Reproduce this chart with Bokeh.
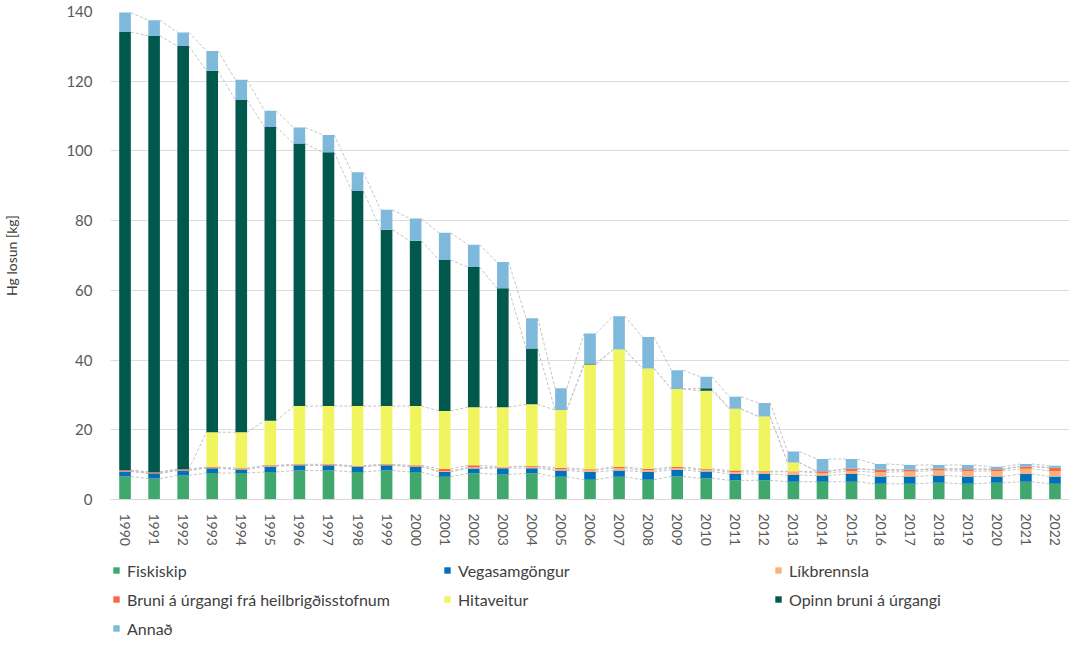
from bokeh.plotting import figure
from bokeh.models import ColumnDataSource, Range1d, FixedTicker, Legend, LegendItem
from bokeh.layouts import column
from bokeh.embed import file_html
from bokeh.resources import INLINE

years = [str(y) for y in range(1990, 2023)]

fiskiskip = [6.6, 6.0, 6.9, 7.6, 7.6, 7.9, 8.3, 8.3, 7.9, 8.3, 7.9, 6.5, 7.5, 7.2, 7.5, 6.5, 5.7,
             6.5, 5.7, 6.6, 6.1, 5.5, 5.5, 5.1, 5.1, 5.1, 4.5, 4.5, 4.8, 4.5, 4.8, 5.1, 4.5]
vegasamgongur = [1.4, 1.5, 1.4, 1.4, 1.0, 1.6, 1.5, 1.5, 1.5, 1.5, 1.5, 1.4, 1.4, 1.8, 1.5, 1.8, 2.2,
                 1.8, 2.2, 1.9, 1.9, 1.8, 1.8, 1.9, 1.8, 2.2, 2.1, 2.1, 2.1, 2.1, 1.8, 2.2, 2.1]
likbrennsla = [0.1, 0.1, 0.1, 0.1, 0.1, 0.1, 0.1, 0.1, 0.1, 0.1, 0.1, 0.3, 0.3, 0.3, 0.4, 0.4, 0.5,
               0.7, 0.5, 0.5, 0.5, 0.6, 0.6, 1.0, 0.7, 0.8, 1.2, 1.4, 1.4, 1.5, 1.6, 1.5, 1.6]
bruni = [0.3, 0.3, 0.3, 0.2, 0.3, 0.2, 0.2, 0.2, 0.2, 0.2, 0.3, 0.6, 0.6, 0.1, 0.2, 0.4, 0.3,
         0.4, 0.4, 0.3, 0.3, 0.4, 0.2, 0.1, 0.5, 0.7, 0.7, 0.5, 0.5, 0.6, 0.5, 0.7, 0.9]
hitaveitur = [0.0, 0.0, 0.0, 10.0, 10.3, 12.8, 16.7, 16.7, 17.1, 16.7, 17.0, 16.6, 16.7, 17.1, 17.7,
              16.6, 30.0, 33.6, 28.8, 22.4, 22.4, 17.7, 15.7, 2.5, 0.0, 0.0, 0.0, 0.0, 0.0, 0.0,
              0.0, 0.0, 0.0]
opinn = [125.7, 125.1, 121.4, 103.7, 95.3, 84.3, 75.3, 72.8, 61.7, 50.6, 47.4, 43.3, 40.2, 34.1,
         16.0, 0.0, 0.3, 0.0, 0.0, 0.0, 0.7, 0.0, 0.0, 0.0, 0.0, 0.0, 0.0, 0.0, 0.0, 0.0, 0.0,
         0.0, 0.0]
annad = [5.6, 4.5, 3.9, 5.7, 5.8, 4.6, 4.6, 5.0, 5.4, 5.7, 6.4, 7.8, 6.4, 7.5, 8.7, 6.2, 8.6, 9.6,
         9.0, 5.4, 3.3, 3.5, 3.9, 3.2, 3.5, 2.8, 1.7, 1.4, 1.1, 1.2, 0.7, 0.7, 0.6]

series_names = ["Fiskiskip", "Vegasamgöngur", "Líkbrennsla",
                "Bruni á úrgangi frá heilbrigðisstofnum", "Hitaveitur",
                "Opinn bruni á úrgangi", "Annað"]
series_values = [fiskiskip, vegasamgongur, likbrennsla, bruni, hitaveitur, opinn, annad]
colors = ["#41A86D", "#0070B9", "#FDB07B", "#F56A44", "#F0F45F", "#00594C", "#7EB8DA"]
y_ticks = [0, 20, 40, 60, 80, 100, 120, 140]

FONT = "Lato"
n = len(years)
xs = list(range(n))
keys = ["s%d" % i for i in range(len(series_names))]
data = {"x": xs}
for k, v in zip(keys, series_values):
    data[k] = v
source = ColumnDataSource(data)

p = figure(width=1069, height=548, output_backend="svg", toolbar_location=None,
           x_range=Range1d(-0.5, n - 0.5), y_range=Range1d(0, 140),
           min_border_left=0, min_border_right=0, min_border_top=11,
           min_border_bottom=48)
p.outline_line_color = None
p.background_fill_color = "white"

# series lines (connect top of each stacked segment between neighbouring bars)
bw = 0.4
cum = [0.0] * n
for vals in series_values:
    cum = [c + v for c, v in zip(cum, vals)]
    x0 = [i + bw / 2 for i in range(n - 1)]
    x1 = [i + 1 - bw / 2 for i in range(n - 1)]
    p.segment(x0=x0, y0=cum[:-1], x1=x1, y1=cum[1:], line_color="#C4C4C4",
              line_width=1, line_dash="3 2")

p.vbar_stack(keys, x="x", width=bw, color=colors, line_color=None, source=source)

# axes
p.xaxis.ticker = FixedTicker(ticks=xs)
p.xaxis.major_label_overrides = {i: y for i, y in enumerate(years)}
p.xaxis.major_label_orientation = "vertical"
p.xaxis.major_label_text_font = FONT
p.xaxis.major_label_text_font_size = "14px"
p.xaxis.major_label_text_color = "#595959"
p.xaxis.major_tick_line_color = None
p.xaxis.minor_tick_line_color = None
p.xaxis.axis_line_color = "#D9D9D9"
p.xaxis.major_label_standoff = 8

p.yaxis.ticker = FixedTicker(ticks=y_ticks)
p.yaxis.axis_label = "Hg losun [kg]"
p.yaxis.axis_label_text_font = FONT
p.yaxis.axis_label_text_font_style = "normal"
p.yaxis.axis_label_text_font_size = "14px"
p.yaxis.axis_label_text_color = "#404040"
p.yaxis.axis_label_standoff = 43
p.yaxis.major_label_text_font = FONT
p.yaxis.major_label_text_font_size = "15px"
p.yaxis.major_label_text_color = "#595959"
p.yaxis.major_tick_line_color = None
p.yaxis.minor_tick_line_color = None
p.yaxis.axis_line_color = None
p.yaxis.major_label_standoff = 12

p.xgrid.grid_line_color = None
p.ygrid.grid_line_color = "#DCDCDC"
p.ygrid.grid_line_width = 1

# legend in its own strip below the chart
lg = figure(width=1069, height=98, output_backend="svg", toolbar_location=None,
            x_axis_type=None, y_axis_type=None, x_range=Range1d(0, 1), y_range=Range1d(0, 1),
            min_border_left=0, min_border_right=0, min_border_top=0, min_border_bottom=0)
lg.outline_line_color = None
lg.grid.grid_line_color = None
items = []
for nm, c in zip(series_names, colors):
    r = lg.vbar(x=[-5], top=[-5], bottom=[-6], width=0.1, fill_color=c, line_color=None)
    items.append(LegendItem(label=nm, renderers=[r]))
legend = Legend(items=items, location=(2, 8), orientation="horizontal", ncols=3)
legend.label_text_font = FONT
legend.label_text_font_size = "16px"
legend.label_text_color = "#404040"
legend.glyph_width = 8
legend.glyph_height = 8
legend.label_standoff = 7
legend.label_width = 307
legend.label_height = 20
legend.spacing = 9
legend.padding = 0
legend.margin = 0
legend.border_line_color = None
legend.background_fill_alpha = 0
lg.add_layout(legend, "center")

layout = column(p, lg, spacing=0)
open("out.html", "w").write(file_html(layout, INLINE))
